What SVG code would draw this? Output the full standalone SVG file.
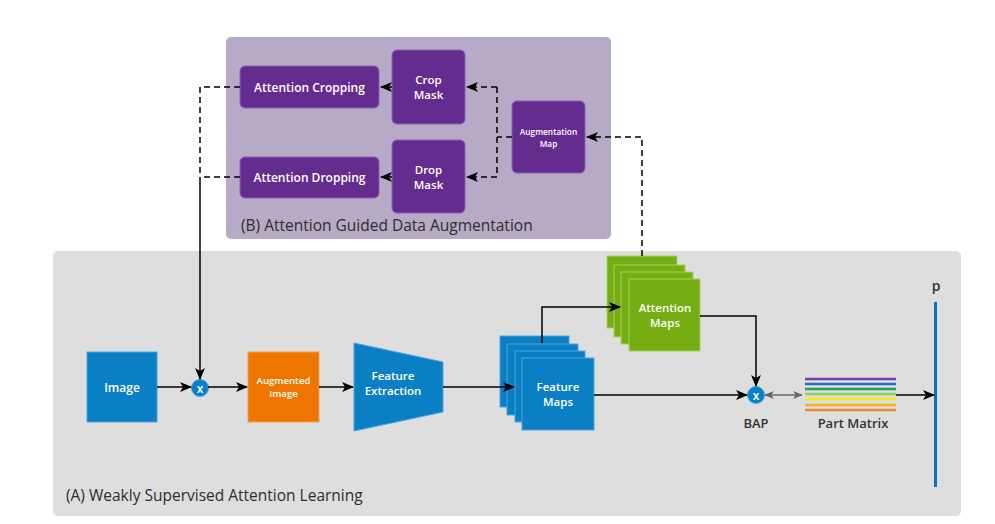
<svg xmlns="http://www.w3.org/2000/svg" width="995" height="524" viewBox="0 0 995 524">
<defs>
<marker id="ah" viewBox="0 0 12 10" refX="11" refY="5" markerWidth="12" markerHeight="10" markerUnits="userSpaceOnUse" orient="auto">
<path d="M0,0 L12,5 L0,10 L3,5 Z" fill="#000"/>
</marker>
<marker id="ahg" viewBox="0 0 12 10" refX="11" refY="5" markerWidth="10" markerHeight="8" markerUnits="userSpaceOnUse" orient="auto-start-reverse">
<path d="M0,0 L12,5 L0,10 L3,5 Z" fill="#666"/>
</marker>
<style>
.panelA{fill:#dedede;}
.panelB{fill:#b6aac7;}
.pbox{fill:#652c90;stroke:#8a5fb0;stroke-width:1;}
.blue{fill:#0b7fc4;stroke:#4aa6dd;stroke-width:1;}
.green{fill:#75ad12;stroke:#a6d25c;stroke-width:1;}
.orange{fill:#ee7600;stroke:#f5a24f;stroke-width:1;}
.wt{font-family:"Open Sans","DejaVu Sans",sans-serif;font-weight:600;fill:#fff;text-anchor:middle;}
.lbl{font-family:"Open Sans","DejaVu Sans",sans-serif;font-weight:600;fill:#333;}
.ttl{font-family:"Open Sans","DejaVu Sans",sans-serif;font-weight:500;fill:#2d2d2d;font-size:15.5px;}
.solid{fill:none;stroke:#000;stroke-width:1.5;}
.dash{fill:none;stroke:#000;stroke-width:1.5;stroke-dasharray:6,4;}
</style>
</defs>

<rect class="panelB" x="226" y="37" width="385" height="202" rx="5"/>
<rect class="panelA" x="53" y="251" width="908" height="265" rx="5"/>
<text class="ttl" x="241" y="231">(B) Attention Guided Data Augmentation</text>
<text class="ttl" x="66" y="501">(A) Weakly Supervised Attention Learning</text>

<g id="attention-cropping">
<rect class="pbox" x="240" y="66" width="139" height="42" rx="5"/>
<text class="wt" x="309.5" y="91.5" font-size="12">Attention Cropping</text>
</g>
<g id="attention-dropping">
<rect class="pbox" x="240" y="157" width="139" height="41" rx="5"/>
<text class="wt" x="309.5" y="182" font-size="12">Attention Dropping</text>
</g>
<g id="crop-mask">
<rect class="pbox" x="392" y="50" width="73" height="74" rx="5"/>
<text class="wt" x="428.5" y="83.5" font-size="11.5">Crop</text>
<text class="wt" x="428.5" y="99" font-size="11.5">Mask</text>
</g>
<g id="drop-mask">
<rect class="pbox" x="392" y="140" width="73" height="73" rx="5"/>
<text class="wt" x="428.5" y="173.5" font-size="11.5">Drop</text>
<text class="wt" x="428.5" y="189" font-size="11.5">Mask</text>
</g>
<g id="augmentation-map">
<rect class="pbox" x="512" y="101" width="73" height="72" rx="5"/>
<text class="wt" x="548.5" y="135" font-size="8.3">Augmentation</text>
<text class="wt" x="548.5" y="146.5" font-size="8.3">Map</text>
</g>

<g id="image">
<rect class="blue" x="87" y="352" width="70" height="70"/>
<text class="wt" x="122" y="391.5" font-size="12">Image</text>
</g>
<g id="mult1">
<circle cx="200" cy="388" r="8.5" fill="#0b7fc4" stroke="#4aa6dd"/>
<text class="wt" x="200" y="392.5" font-size="12" font-weight="bold">x</text>
</g>
<g id="augmented-image">
<rect class="orange" x="248" y="352" width="71" height="70"/>
<text class="wt" x="283.5" y="383.5" font-size="9.6">Augmented</text>
<text class="wt" x="283.5" y="397" font-size="9.6">Image</text>
</g>
<g id="feature-extraction">
<polygon class="blue" points="354,343 443,362 443,412 354,431"/>
<text class="wt" x="393" y="379.5" font-size="11.5">Feature</text>
<text class="wt" x="393" y="395" font-size="11.5">Extraction</text>
</g>
<g id="feature-maps">
<rect class="blue" x="500" y="336" width="69" height="71"/>
<rect class="blue" x="507" y="344" width="71" height="71"/>
<rect class="blue" x="515" y="351" width="70" height="71"/>
<rect class="blue" x="522" y="358" width="72" height="72"/>
<text class="wt" x="558" y="390.5" font-size="11.5">Feature</text>
<text class="wt" x="558" y="406" font-size="11.5">Maps</text>
</g>
<g id="attention-maps">
<rect class="green" x="607" y="256" width="70" height="72"/>
<rect class="green" x="614" y="265" width="71" height="72"/>
<rect class="green" x="621" y="272" width="72" height="72"/>
<rect class="green" x="629" y="279" width="71" height="72"/>
<text class="wt" x="665" y="311.5" font-size="11.5">Attention</text>
<text class="wt" x="665" y="327" font-size="11.5">Maps</text>
</g>
<g id="bap">
<circle cx="756" cy="395" r="8.5" fill="#0b7fc4" stroke="#4aa6dd"/>
<text class="wt" x="756" y="399.5" font-size="12" font-weight="bold">x</text>
<text class="lbl" x="756" y="428" font-size="13" text-anchor="middle">BAP</text>
</g>
<g id="part-matrix">
<g stroke-width="2.5">
<line x1="805" y1="379" x2="896" y2="379" stroke="#7a3fa8"/>
<line x1="805" y1="384" x2="896" y2="384" stroke="#1f72c0"/>
<line x1="805" y1="389" x2="896" y2="389" stroke="#1fa15a"/>
<line x1="805" y1="394" x2="896" y2="394" stroke="#8fcf5a"/>
<line x1="805" y1="399" x2="896" y2="399" stroke="#f2ec1a"/>
<line x1="805" y1="405" x2="896" y2="405" stroke="#f7b21e"/>
<line x1="805" y1="410" x2="896" y2="410" stroke="#f08a3a"/>
</g>
<text class="lbl" x="853" y="428" font-size="13" text-anchor="middle">Part Matrix</text>
</g>
<g id="p">
<rect x="934" y="302" width="3" height="185" fill="#0b6fc0"/>
<text class="lbl" x="936" y="291" font-size="14" text-anchor="middle">p</text>
</g>

<g id="connectors">
<path class="dash" d="M642,256 V137 H587" marker-end="url(#ah)"/>
<path class="dash" d="M512,137 H497"/>
<path class="dash" d="M497,87 V177"/>
<path class="dash" d="M497,87 H467" marker-end="url(#ah)"/>
<path class="dash" d="M497,177 H467" marker-end="url(#ah)"/>
<path class="solid" d="M392,87 H381" marker-end="url(#ah)"/>
<path class="solid" d="M392,177 H381" marker-end="url(#ah)"/>
<path class="dash" d="M240,87 H200 V177"/>
<path class="dash" d="M240,177 H200"/>
<path class="solid" d="M200,177 V379" marker-end="url(#ah)"/>
<path class="solid" d="M157,387 H191" marker-end="url(#ah)"/>
<path class="solid" d="M208,387 H247" marker-end="url(#ah)"/>
<path class="solid" d="M319,387 H353" marker-end="url(#ah)"/>
<path class="solid" d="M443,387 H514" marker-end="url(#ah)"/>
<path class="solid" d="M542,343 V307 H620" marker-end="url(#ah)"/>
<path class="solid" d="M700,316 H756 V386" marker-end="url(#ah)"/>
<path class="solid" d="M594,395 H747" marker-end="url(#ah)"/>
<path fill="none" stroke="#666" stroke-width="1.5" d="M765,395 H802" marker-start="url(#ahg)" marker-end="url(#ahg)"/>
<path class="solid" d="M896,395 H934" marker-end="url(#ah)"/>
</g>
</svg>
